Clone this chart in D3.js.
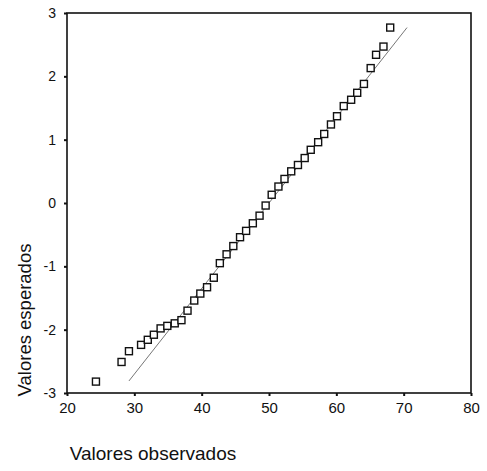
<!DOCTYPE html>
<meta charset="utf-8">
<script src="https://d3js.org/d3.v7.min.js"></script>
<style>
    body { margin: 0; background: #fff; }
    text { font-family: Arial, "Liberation Sans", sans-serif; fill: #111; }
</style>
<div id="chart"></div>
<script>
    var observed = [24.3, 28.1, 29.2, 31.0, 32.0, 32.9, 33.9, 34.9, 36.0, 37.0,
        37.9, 38.9, 39.8, 40.8, 41.8, 42.7, 43.7, 44.7, 45.7, 46.6,
        47.6, 48.6, 49.5, 50.4, 51.4, 52.3, 53.3, 54.3, 55.3, 56.2,
        57.3, 58.2, 59.2, 60.1, 61.1, 62.2, 63.1, 64.1, 65.1, 65.9,
        67.0, 68.0];
    var expected = [-2.82, -2.51, -2.34, -2.24, -2.16, -2.08, -1.98, -1.94, -1.90, -1.85,
        -1.70, -1.54, -1.43, -1.33, -1.18, -0.95, -0.81, -0.68, -0.54, -0.44,
        -0.32, -0.20, -0.04, 0.13, 0.26, 0.38, 0.50, 0.60, 0.71, 0.84,
        0.96, 1.09, 1.24, 1.37, 1.53, 1.63, 1.74, 1.88, 2.13, 2.34,
        2.47, 2.77];
    // reference line end points
    var lineX = [29.2, 70.5];
    var lineY = [-2.81, 2.77];
    var xTicks = [20, 30, 40, 50, 60, 70, 80];
    var yTicks = [-3, -2, -1, 0, 1, 2, 3];

    var W = 487, H = 471;
    var margin = {top: 13, right: 16, bottom: 78, left: 67};

    var svg = d3.select("#chart").append("svg")
        .attr("width", W).attr("height", H);

    var x = d3.scaleLinear().domain([20, 80]).range([margin.left, W - margin.right]);
    var y = d3.scaleLinear().domain([-3, 3]).range([H - margin.bottom, margin.top]);

    // plain hyphen minus, like the original
    var fmt = function(d) { return String(d); };

    // frame
    svg.append("rect")
        .attr("x", x(20)).attr("y", y(3))
        .attr("width", x(80) - x(20)).attr("height", y(-3) - y(3))
        .attr("fill", "none").attr("stroke", "#111").attr("stroke-width", 1.6);

    // axes
    var xAxis = svg.append("g")
        .attr("transform", "translate(0," + y(-3) + ")")
        .call(d3.axisBottom(x).tickValues(xTicks).tickFormat(fmt).tickSize(3).tickPadding(6));
    var yAxis = svg.append("g")
        .attr("transform", "translate(" + x(20) + ",0)")
        .call(d3.axisLeft(y).tickValues(yTicks).tickFormat(fmt).tickSize(3).tickPadding(8));

    [xAxis, yAxis].forEach(function(a) {
        a.select(".domain").remove();
        a.selectAll(".tick line").attr("stroke", "#111").attr("stroke-width", 2);
        a.selectAll(".tick text").attr("fill", "#111")
            .style("font-family", "Arial, 'Liberation Sans', sans-serif");
    });
    xAxis.selectAll(".tick text").style("font-size", "15px");
    yAxis.selectAll(".tick text").style("font-size", "14px");

    // reference line
    svg.append("line")
        .attr("x1", x(lineX[0])).attr("y1", y(lineY[0]))
        .attr("x2", x(lineX[1])).attr("y2", y(lineY[1]))
        .attr("stroke", "#666").attr("stroke-width", 0.9);

    // points
    var s = 7;
    svg.selectAll("rect.pt")
        .data(observed)
        .enter().append("rect")
        .attr("class", "pt")
        .attr("x", function(d) { return x(d) - s / 2; })
        .attr("y", function(d, i) { return y(expected[i]) - s / 2; })
        .attr("width", s).attr("height", s)
        .attr("fill", "#fff").attr("stroke", "#111").attr("stroke-width", 1.4);

    // axis titles
    svg.append("text")
        .attr("x", 153).attr("y", 460)
        .attr("text-anchor", "middle")
        .style("font-size", "19px")
        .text("Valores observados");
    svg.append("text")
        .attr("transform", "translate(31,320) rotate(-90)")
        .attr("text-anchor", "middle")
        .style("font-size", "18.5px")
        .text("Valores esperados");
</script>
